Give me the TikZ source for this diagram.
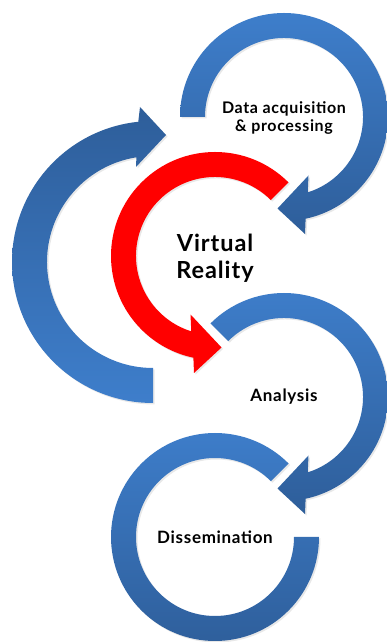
\documentclass[tikz,border=0pt]{standalone}
\usepackage{fontspec}
\setmainfont{Lato}[LetterSpace=4]
\usetikzlibrary{shadows}
\definecolor{ringlight}{HTML}{3E7ECB}
\definecolor{ringdark}{HTML}{2E5E9A}
\definecolor{ringred}{HTML}{FF0000}

\begin{document}
\begin{tikzpicture}[x=1pt, y=1pt,
	soft/.style={drop shadow={opacity=0.18, shadow xshift=1.5pt, shadow yshift=-1.5pt}},
	ring/.style={soft, top color=ringlight, bottom color=ringdark},
	flipring/.style={soft, top color=ringdark, bottom color=ringlight},
	redring/.style={soft, fill=ringred},
	stage/.style={align=center, font=\bfseries\fontsize{16}{18}\selectfont}]

	\useasboundingbox (0,0) rectangle (387,642);

	\coordinate (lp) at (153,380);
	\coordinate (da) at (284,525);
	\coordinate (vr) at (215,386);
	\coordinate (an) at (284,245);
	\coordinate (di) at (215,105);

	\begin{scope}[shift={(lp)}]
		\shade[flipring] (270:141) arc[start angle=270, end angle=96, radius=141]
			-- (-13,155) -- (13,127) -- (-17,95)
			-- (99:106) arc[start angle=99, end angle=270, radius=106] -- cycle;
	\end{scope}

	\begin{scope}[shift={(da)}]
		\shade[ring] (180:104) arc[start angle=180, end angle=-78, radius=104]
			-- (21,-117) -- (-6.5,-91.5) -- (24.5,-58.5)
			-- (-72.5:79) arc[start angle=-72.5, end angle=180, radius=79] -- cycle;
	\end{scope}

	\begin{scope}[shift={(vr)}]
		\fill[redring] (45:104) arc[start angle=45, end angle=258, radius=104]
			-- (-21,-117) -- (6.5,-91.5) -- (-24.5,-58.5)
			-- (252.5:79) arc[start angle=252.5, end angle=45, radius=79] -- cycle;
	\end{scope}

	\begin{scope}[shift={(an)}]
		\shade[ring] (135:104) arc[start angle=135, end angle=-78, radius=104]
			-- (21,-117) -- (-6.5,-91.5) -- (24.5,-58.5)
			-- (-72.5:79) arc[start angle=-72.5, end angle=135, radius=79] -- cycle;
	\end{scope}

	\begin{scope}[shift={(di)}]
		\shade[ring] (45:104) arc[start angle=45, end angle=360, radius=104]
			-- (0:79) arc[start angle=360, end angle=45, radius=79] -- cycle;
	\end{scope}

	\node[stage] (datatext) at ([yshift=-1]da) {Data acquisition\\\& processing};
	\node[stage, font=\bfseries\fontsize{23.5}{27}\selectfont] (vrtext) at ([yshift=-2]vr) {Virtual\\Reality};
	\node[stage, font=\bfseries\fontsize{17}{20}\selectfont] (antext) at (an) {Analysis};
	\node[stage, font=\bfseries\fontsize{17}{20}\selectfont] (ditext) at (di) {Dissemination};

\end{tikzpicture}
\end{document}
